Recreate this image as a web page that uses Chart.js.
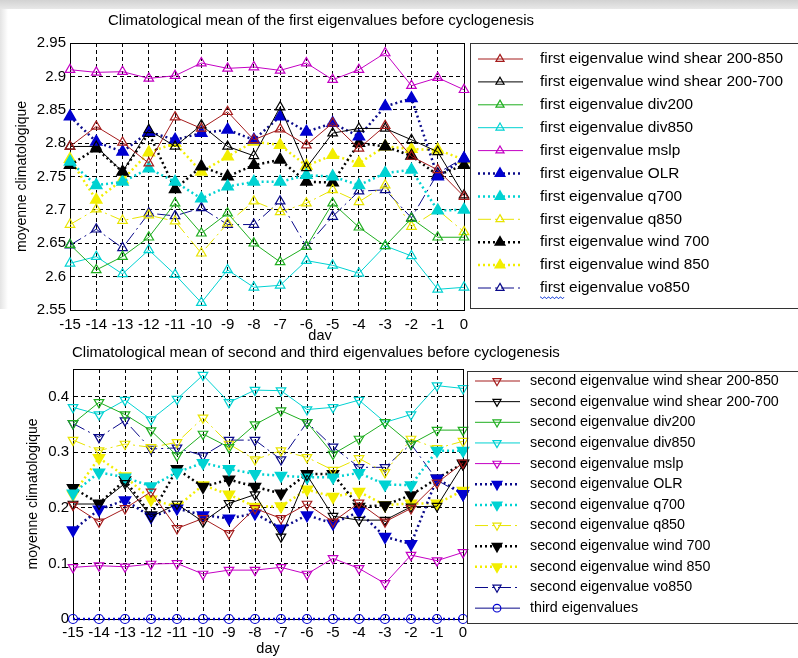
<!DOCTYPE html>
<html>
<head>
<meta charset="utf-8">
<script src="https://cdn.jsdelivr.net/npm/chart.js@4.4.0/dist/chart.umd.min.js"></script>
<style>
  html, body { margin: 0; padding: 0; background: #fff; }
  #wrap { position: relative; width: 798px; height: 658px; overflow: hidden; }
  #topBand { position: absolute; left: 0; top: 0; width: 798px; height: 9px; background: linear-gradient(#d2d2d2, #e8e8e8); }
  #leftBand { position: absolute; left: 0; top: 9px; width: 8px; height: 300px; background: linear-gradient(to right, #e4e4e4, #fff); }
  canvas { position: absolute; left: 0; }
  #firstChart { top: 0; }
  #secondChart { top: 340px; background: #fff; }
</style>
</head>
<body>
<div id="wrap">
  <div id="topBand"></div>
  <div id="leftBand"></div>
  <canvas id="firstChart" width="798" height="345"></canvas>
  <canvas id="secondChart" width="798" height="318"></canvas>
</div>
<script>
// jours avant la cyclogenese
const days = ['-15', '-14', '-13', '-12', '-11', '-10', '-9', '-8', '-7', '-6', '-5', '-4', '-3', '-2', '-1', '0'];

// premieres valeurs propres
const shear850First = [2.795, 2.825, 2.801, 2.770, 2.839, 2.822, 2.847, 2.805, 2.821, 2.797, 2.830, 2.792, 2.826, 2.780, 2.760, 2.720];
const shear700First = [2.795, 2.795, 2.757, 2.820, 2.795, 2.827, 2.795, 2.781, 2.854, 2.763, 2.815, 2.822, 2.822, 2.805, 2.787, 2.722];
const div200First   = [2.648, 2.610, 2.630, 2.659, 2.710, 2.665, 2.695, 2.650, 2.622, 2.645, 2.710, 2.674, 2.646, 2.687, 2.659, 2.659];
const div850First   = [2.620, 2.630, 2.604, 2.640, 2.603, 2.561, 2.610, 2.584, 2.587, 2.624, 2.617, 2.605, 2.646, 2.631, 2.581, 2.584];
const mslpFirst     = [2.910, 2.906, 2.907, 2.897, 2.901, 2.920, 2.912, 2.914, 2.909, 2.920, 2.895, 2.910, 2.935, 2.886, 2.898, 2.880];
const olrFirst      = [2.840, 2.802, 2.787, 2.817, 2.805, 2.815, 2.820, 2.805, 2.840, 2.817, 2.830, 2.810, 2.855, 2.867, 2.750, 2.777];
const q700First     = [2.772, 2.737, 2.742, 2.762, 2.742, 2.717, 2.735, 2.742, 2.742, 2.752, 2.750, 2.737, 2.755, 2.760, 2.699, 2.700];
const q850First     = [2.678, 2.701, 2.684, 2.692, 2.683, 2.635, 2.680, 2.713, 2.697, 2.710, 2.730, 2.712, 2.737, 2.675, 2.700, 2.667];
const wind700First  = [2.767, 2.792, 2.757, 2.815, 2.731, 2.765, 2.750, 2.767, 2.775, 2.742, 2.741, 2.800, 2.795, 2.781, 2.752, 2.767];
const wind850First  = [2.776, 2.715, 2.745, 2.786, 2.800, 2.757, 2.780, 2.802, 2.797, 2.766, 2.782, 2.770, 2.795, 2.791, 2.790, 2.775];
const vo850First    = [2.647, 2.671, 2.643, 2.695, 2.691, 2.703, 2.678, 2.678, 2.713, 2.645, 2.690, 2.728, 2.730, 2.688, 2.755, 2.778];

// deuxiemes et troisiemes valeurs propres
const shear850Second = [0.205, 0.175, 0.199, 0.229, 0.163, 0.181, 0.154, 0.199, 0.181, 0.207, 0.175, 0.209, 0.175, 0.199, 0.245, 0.281];
const shear700Second = [0.207, 0.207, 0.244, 0.184, 0.207, 0.175, 0.208, 0.224, 0.148, 0.259, 0.185, 0.178, 0.178, 0.202, 0.203, 0.278];
const div200Second   = [0.352, 0.390, 0.368, 0.339, 0.294, 0.333, 0.309, 0.350, 0.375, 0.354, 0.297, 0.324, 0.354, 0.315, 0.340, 0.340];
const div850Second   = [0.381, 0.368, 0.394, 0.359, 0.396, 0.439, 0.390, 0.412, 0.411, 0.377, 0.381, 0.394, 0.354, 0.368, 0.420, 0.415];
const mslpSecond     = [0.093, 0.096, 0.094, 0.099, 0.100, 0.081, 0.088, 0.088, 0.093, 0.081, 0.109, 0.091, 0.064, 0.115, 0.105, 0.120];
const olrSecond      = [0.160, 0.197, 0.214, 0.184, 0.199, 0.187, 0.181, 0.190, 0.163, 0.187, 0.172, 0.193, 0.148, 0.135, 0.253, 0.225];
const q700Second     = [0.226, 0.264, 0.255, 0.239, 0.264, 0.281, 0.270, 0.261, 0.258, 0.255, 0.255, 0.263, 0.242, 0.241, 0.303, 0.303];
const q850Second     = [0.322, 0.303, 0.315, 0.309, 0.318, 0.362, 0.315, 0.287, 0.303, 0.291, 0.268, 0.289, 0.264, 0.324, 0.307, 0.320];
const wind700Second  = [0.236, 0.208, 0.250, 0.187, 0.270, 0.238, 0.251, 0.238, 0.226, 0.261, 0.261, 0.202, 0.205, 0.223, 0.253, 0.280];
const wind850Second  = [0.224, 0.290, 0.257, 0.215, 0.202, 0.241, 0.224, 0.202, 0.203, 0.233, 0.220, 0.229, 0.205, 0.208, 0.208, 0.231];
const vo850Second    = [0.352, 0.327, 0.357, 0.306, 0.308, 0.294, 0.322, 0.322, 0.287, 0.354, 0.310, 0.273, 0.273, 0.315, 0.250, 0.223];
const thirdValues    = [0, 0, 0, 0, 0, 0, 0, 0, 0, 0, 0, 0, 0, 0, 0, 0];

const FONT = "'Liberation Sans', Arial, sans-serif";
Chart.defaults.font.family = FONT;
Chart.defaults.color = '#000';

/* une serie: kind = 'solid' | 'dotted' | 'dashdot', marker = 'up' | 'down' | 'circle' */
function serie(label, values, lineColor, markColor, kind, marker, filled) {
  const dotted = kind === 'dotted';
  let dash = [];
  if (dotted) dash = [2, 3];
  if (kind === 'dashdot') dash = [13, 4, 2, 4];
  return {
    label: label,
    data: values,
    borderColor: lineColor,
    borderWidth: dotted ? 2.5 : 1,
    borderDash: dash,
    tension: 0,
    clip: false,
    pointStyle: marker === 'circle' ? 'circle' : 'triangle',
    pointRotation: marker === 'down' ? 180 : 0,
    pointRadius: marker === 'circle' ? 4.5 : (filled ? 6.3 : 5.5),
    pointBorderWidth: filled ? 1.6 : 1.2,
    pointBorderColor: markColor,
    pointBackgroundColor: filled ? markColor : 'rgba(0,0,0,0)'
  };
}

const BROWN = '#a51c1c', GREEN = '#1fae1f', CYAN = '#00d2d2', MAGENTA = '#c400c4',
      BLUE = '#0000d0', NAVY = '#0a0a8a', YELLOW = '#e8e400', YELLOW2 = '#f2ee00';

const firstSets = [
  serie('first eigenvalue wind shear 200-850', shear850First, BROWN, BROWN, 'solid', 'up', false),
  serie('first eigenvalue wind shear 200-700', shear700First, '#000', '#000', 'solid', 'up', false),
  serie('first eigenvalue div200', div200First, GREEN, GREEN, 'solid', 'up', false),
  serie('first eigenvalue div850', div850First, CYAN, CYAN, 'solid', 'up', false),
  serie('first eigenvalue mslp', mslpFirst, MAGENTA, MAGENTA, 'solid', 'up', false),
  serie('first eigenvalue OLR', olrFirst, NAVY, BLUE, 'dotted', 'up', true),
  serie('first eigenvalue q700', q700First, CYAN, CYAN, 'dotted', 'up', true),
  serie('first eigenvalue q850', q850First, YELLOW, YELLOW, 'dashdot', 'up', false),
  serie('first eigenvalue wind 700', wind700First, '#000', '#000', 'dotted', 'up', true),
  serie('first eigenvalue wind 850', wind850First, YELLOW2, YELLOW2, 'dotted', 'up', true),
  serie('first eigenvalue vo850', vo850First, NAVY, NAVY, 'dashdot', 'up', false)
];

const secondSets = [
  serie('second eigenvalue wind shear 200-850', shear850Second, BROWN, BROWN, 'solid', 'down', false),
  serie('second eigenvalue wind shear 200-700', shear700Second, '#000', '#000', 'solid', 'down', false),
  serie('second eigenvalue div200', div200Second, GREEN, GREEN, 'solid', 'down', false),
  serie('second eigenvalue div850', div850Second, CYAN, CYAN, 'solid', 'down', false),
  serie('second eigenvalue mslp', mslpSecond, MAGENTA, MAGENTA, 'solid', 'down', false),
  serie('second eigenvalue OLR', olrSecond, NAVY, BLUE, 'dotted', 'down', true),
  serie('second eigenvalue q700', q700Second, CYAN, CYAN, 'dotted', 'down', true),
  serie('second eigenvalue q850', q850Second, YELLOW, YELLOW, 'dashdot', 'down', false),
  serie('second eigenvalue wind 700', wind700Second, '#000', '#000', 'dotted', 'down', true),
  serie('second eigenvalue wind 850', wind850Second, YELLOW2, YELLOW2, 'dotted', 'down', true),
  serie('second eigenvalue vo850', vo850Second, NAVY, NAVY, 'dashdot', 'down', false),
  serie('third eigenvalues', thirdValues, BLUE, BLUE, 'dotted', 'circle', false)
];
// la ligne des troisiemes valeurs propres est en pointille, la legende en trait plein
secondSets[11].legendDash = [];
secondSets[11].legendWidth = 1;
secondSets[11].legendColor = NAVY;

function drawMarker(ctx, ds, x, y, scale) {
  const r = ds.pointRadius * scale;
  ctx.save();
  ctx.setLineDash([]);
  ctx.lineWidth = ds.pointBorderWidth;
  ctx.strokeStyle = ds.pointBorderColor;
  ctx.fillStyle = ds.pointBackgroundColor;
  ctx.beginPath();
  if (ds.pointStyle === 'circle') {
    ctx.arc(x, y, r, 0, Math.PI * 2);
  } else {
    let a = ds.pointRotation * Math.PI / 180;
    for (let k = 0; k < 3; k++) {
      const px = x + Math.sin(a) * r, py = y - Math.cos(a) * r;
      if (k === 0) ctx.moveTo(px, py); else ctx.lineTo(px, py);
      a += 2 * Math.PI / 3;
    }
    ctx.closePath();
  }
  ctx.fill();
  ctx.stroke();
  ctx.restore();
}

// cadre de l'axe, titre, legende encadree
const decorPlugin = {
  id: 'decor',
  beforeDatasetsDraw(chart) {
    const { ctx, chartArea: a } = chart;
    ctx.save();
    ctx.strokeStyle = '#000';
    ctx.lineWidth = 1;
    ctx.strokeRect(a.left + 0.5, a.top + 0.5, a.right - a.left, a.bottom - a.top);
    ctx.restore();
  },
  afterDraw(chart, args, opts) {
    const ctx = chart.ctx;
    ctx.save();
    ctx.fillStyle = '#000';
    ctx.textBaseline = 'middle';
    ctx.textAlign = 'left';
    ctx.font = opts.titleFont;
    ctx.fillText(opts.title, opts.titleX, opts.titleY);
    if (opts.dayLabel) {
      ctx.textAlign = 'center';
      ctx.font = '14.5px ' + FONT;
      ctx.fillText('day', opts.dayLabel.x, opts.dayLabel.y);
    }

    const L = opts.legend;
    ctx.strokeStyle = '#333';
    ctx.lineWidth = 1;
    ctx.strokeRect(L.left + 0.5, L.top + 0.5, L.right - L.left, L.bottom - L.top);

    chart.data.datasets.forEach((ds, i) => {
      const y = L.rowTop + i * L.rowStep;
      ctx.save();
      ctx.strokeStyle = ds.legendColor || ds.borderColor;
      ctx.lineWidth = ds.legendWidth || ds.borderWidth;
      ctx.setLineDash(ds.legendDash || ds.borderDash);
      ctx.beginPath();
      ctx.moveTo(L.lineX0, y);
      ctx.lineTo(L.lineX1, y);
      ctx.stroke();
      ctx.restore();
      drawMarker(ctx, ds, L.markX, y, 0.85);
      ctx.textAlign = 'left';
      ctx.fillStyle = '#000';
      ctx.font = L.font;
      ctx.fillText(ds.label, L.textX, y);
    });

    // soulignement ondule sous le premier mot de la derniere entree
    if (L.wavyRow !== undefined) {
      const y = L.rowTop + L.wavyRow * L.rowStep + 9;
      const w = ctx.measureText('first').width;
      ctx.strokeStyle = '#3355dd';
      ctx.lineWidth = 1;
      ctx.beginPath();
      for (let x = 0; x <= w; x += 1) {
        const yy = y + (Math.floor(x / 2) % 2 === 0 ? 0 : 1.5);
        if (x === 0) ctx.moveTo(L.textX + x, yy); else ctx.lineTo(L.textX + x, yy);
      }
      ctx.stroke();
    }
    ctx.restore();
  }
};

function buildChart(canvasId, datasets, cfg) {
  return new Chart(document.getElementById(canvasId), {
    type: 'line',
    data: { labels: days, datasets: datasets },
    options: {
      responsive: false,
      animation: false,
      devicePixelRatio: 1,
      layout: { padding: cfg.padding },
      plugins: {
        legend: { display: false },
        tooltip: { enabled: false },
        decor: cfg.decor
      },
      scales: {
        x: {
          grid: { color: '#000', lineWidth: 1, drawTicks: false },
          border: { display: true, color: '#000', dash: [4, 3] },
          ticks: { font: { size: 15 }, padding: cfg.xTickPad, maxRotation: 0, autoSkip: false },
          title: cfg.xTitle,
          afterFit: s => { s.height = cfg.xHeight; }
        },
        y: {
          min: cfg.yMin,
          max: cfg.yMax,
          grid: { color: '#000', lineWidth: 1, drawTicks: false },
          border: { display: true, color: '#000', dash: [4, 3] },
          ticks: {
            stepSize: cfg.yStep,
            includeBounds: false,
            font: { size: 15 },
            padding: 4,
            callback: v => String(Number(v.toFixed(2)))
          },
          title: {
            display: true,
            text: 'moyenne climatologique',
            font: { size: 14 },
            padding: { top: cfg.yTitlePad, bottom: 0 }
          },
          afterFit: s => { s.width = cfg.yWidth; }
        }
      }
    },
    plugins: [decorPlugin]
  });
}

buildChart('firstChart', firstSets, {
  padding: { top: 43, right: 334, bottom: 0, left: 0 },
  yMin: 2.55, yMax: 2.95, yStep: 0.05,
  yWidth: 70, xHeight: 35, xTickPad: 6, yTitlePad: 14,
  xTitle: { display: false },
  decor: {
    title: 'Climatological mean of the first eigenvalues before cyclogenesis',
    titleFont: '15px ' + FONT, titleX: 108, titleY: 21,
    dayLabel: { x: 320, y: 336 },
    legend: {
      left: 470, top: 43, right: 810, bottom: 308,
      rowTop: 59, rowStep: 22.9,
      lineX0: 478, lineX1: 523, markX: 500, textX: 540,
      font: '15.4px ' + FONT, wavyRow: 10
    }
  }
});

buildChart('secondChart', secondSets, {
  padding: { top: 29, right: 335, bottom: 0, left: 0 },
  yMin: 0, yMax: 0.45, yStep: 0.1,
  yWidth: 73, xHeight: 39, xTickPad: 4.5, yTitlePad: 25,
  xTitle: { display: true, text: 'day', font: { size: 14.5 }, padding: { top: 0, bottom: 0 } },
  decor: {
    title: 'Climatological mean of second and third eigenvalues before cyclogenesis',
    titleFont: '15px ' + FONT, titleX: 72, titleY: 13,
    legend: {
      left: 467, top: 31, right: 810, bottom: 283,
      rowTop: 41, rowStep: 20.65,
      lineX0: 475, lineX1: 520, markX: 497, textX: 530,
      font: '14.3px ' + FONT
    }
  }
});
</script>
</body>
</html>
